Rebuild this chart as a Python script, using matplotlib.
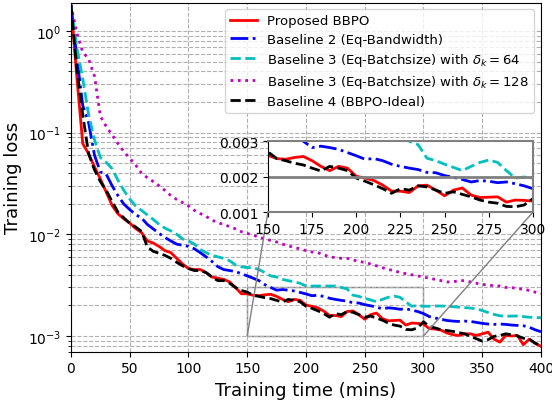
import numpy as np
import matplotlib
matplotlib.use("Agg")
import matplotlib.pyplot as plt
from mpl_toolkits.axes_grid1.inset_locator import mark_inset

# training time grid (mins) and loss values
time_mins = list(range(0, 401, 5))

loss_bbpo = [
    1.8, 0.35, 0.078, 0.062, 0.046, 0.035, 0.026, 0.0192, 0.0159, 0.0142,
    0.0129, 0.0114, 0.0104, 0.0086, 0.0082, 0.0076, 0.0069, 0.0066, 0.0058, 0.0051,
    0.0046, 0.0045, 0.0045, 0.0042, 0.0038, 0.0037, 0.0036, 0.0034, 0.0030, 0.0026,
    0.0026, 0.00251, 0.00249, 0.00254, 0.00257, 0.00245, 0.00229, 0.00217, 0.00229, 0.00224,
    0.00201, 0.00196, 0.00189, 0.00176, 0.00159, 0.00159, 0.00155, 0.00174, 0.00176, 0.00162,
    0.00146, 0.00162, 0.00168, 0.00148, 0.00141, 0.00142, 0.00143, 0.00128, 0.00134, 0.00133,
    0.00131, 0.00118, 0.00117, 0.00114, 0.00107, 0.00103, 0.00101, 0.00105, 0.00105, 0.00101,
    0.00105, 0.00109, 0.00093, 0.00087, 0.00101, 0.00100, 0.00101, 0.00082, 0.00093, 0.00085,
    0.00079,
]

loss_eq_bandwidth = [
    1.8, 0.55, 0.185, 0.125, 0.060, 0.041, 0.039, 0.030, 0.024, 0.0198,
    0.0175, 0.0156, 0.0145, 0.0125, 0.0113, 0.0102, 0.0093, 0.0086, 0.0080, 0.0078,
    0.0076, 0.0072, 0.0066, 0.0060, 0.0054, 0.0048, 0.0045, 0.0044, 0.0043, 0.0041,
    0.0039, 0.0037, 0.0035, 0.0032, 0.0030, 0.00282, 0.00286, 0.00282, 0.00277, 0.00268,
    0.00259, 0.00249, 0.00251, 0.00245, 0.00235, 0.00229, 0.00224, 0.00220, 0.00212, 0.00211,
    0.00203, 0.00198, 0.00192, 0.00185, 0.00189, 0.00187, 0.00183, 0.00185, 0.00180, 0.00174,
    0.00166, 0.00155, 0.00150, 0.00146, 0.00142, 0.00140, 0.00139, 0.00140, 0.00139, 0.00136,
    0.00133, 0.00131, 0.00130, 0.00131, 0.00130, 0.00128, 0.00127, 0.00126, 0.00122, 0.00115,
    0.00110,
]

loss_eq_batch_64 = [
    1.8, 0.68, 0.34, 0.15, 0.085, 0.057, 0.051, 0.044, 0.034, 0.027,
    0.0222, 0.019, 0.0172, 0.0155, 0.0140, 0.0125, 0.0115, 0.0108, 0.0100, 0.0090,
    0.0086, 0.0080, 0.0071, 0.0066, 0.0062, 0.0060, 0.0058, 0.0055, 0.0050, 0.0048,
    0.0047, 0.0047, 0.0045, 0.0042, 0.0039, 0.0038, 0.0036, 0.0035, 0.0034, 0.0033,
    0.0031, 0.0031, 0.0031, 0.0031, 0.0031, 0.0031, 0.0030, 0.0029, 0.00252, 0.00245,
    0.00235, 0.00226, 0.00217, 0.00229, 0.00240, 0.00247, 0.00240, 0.00217, 0.00196, 0.00199,
    0.00196, 0.00196, 0.00197, 0.00197, 0.00196, 0.00194, 0.00192, 0.00190, 0.00188, 0.00185,
    0.00178, 0.00170, 0.00163, 0.00158, 0.00156, 0.00157, 0.00157, 0.00155, 0.00153, 0.00152,
    0.00151,
]

loss_eq_batch_128 = [
    1.8, 0.95, 0.62, 0.53, 0.36, 0.145, 0.115, 0.095, 0.078, 0.065,
    0.056, 0.048, 0.040, 0.036, 0.033, 0.030, 0.027, 0.024, 0.022, 0.0205,
    0.019, 0.0172, 0.0160, 0.0150, 0.0138, 0.0130, 0.0125, 0.0119, 0.0113, 0.0106,
    0.0102, 0.0098, 0.0094, 0.0090, 0.0087, 0.0084, 0.0080, 0.0077, 0.0074, 0.0072,
    0.0069, 0.0067, 0.0066, 0.0063, 0.0060, 0.0059, 0.0058, 0.0058, 0.0056, 0.0054,
    0.0053, 0.0051, 0.0049, 0.0047, 0.0045, 0.0044, 0.0042, 0.0041, 0.0040, 0.0039,
    0.0038, 0.0037, 0.0036, 0.0035, 0.0034, 0.0034, 0.0035, 0.0035, 0.0034, 0.0033,
    0.0032, 0.0032, 0.0031, 0.0031, 0.0030, 0.0030, 0.0029, 0.0029, 0.0028, 0.0027,
    0.0026,
]

loss_ideal = [
    1.8, 0.42, 0.15, 0.062, 0.043, 0.033, 0.027, 0.021, 0.0165, 0.0145,
    0.0128, 0.0118, 0.0107, 0.0075, 0.0068, 0.0065, 0.0062, 0.0058, 0.0053, 0.0049,
    0.0046, 0.0044, 0.0044, 0.0042, 0.0038, 0.0035, 0.0035, 0.0033, 0.0030, 0.0028,
    0.0027, 0.00251, 0.00245, 0.00238, 0.00233, 0.00224, 0.00216, 0.00229, 0.00224, 0.00217,
    0.00196, 0.00187, 0.00177, 0.00166, 0.00153, 0.00166, 0.00162, 0.00174, 0.00171, 0.00162,
    0.00153, 0.00157, 0.00150, 0.00143, 0.00134, 0.00128, 0.00125, 0.00116, 0.00115, 0.00120,
    0.00138, 0.00124, 0.00120, 0.00115, 0.00113, 0.00111, 0.00108, 0.00105, 0.00099, 0.00094,
    0.00089, 0.00092, 0.00099, 0.00101, 0.00105, 0.00103, 0.00100, 0.00095, 0.00093, 0.00085,
    0.00080,
]

labels = [
    "Proposed BBPO",
    "Baseline 2 (Eq-Bandwidth)",
    r"Baseline 3 (Eq-Batchsize) with $\delta_k=64$",
    r"Baseline 3 (Eq-Batchsize) with $\delta_k=128$",
    "Baseline 4 (BBPO-Ideal)",
]
series = [loss_bbpo, loss_eq_bandwidth, loss_eq_batch_64, loss_eq_batch_128, loss_ideal]
styles = ["r-", "b-.", "c--", "m:", "k--"]

fig = plt.figure(figsize=(5.52, 4.02), dpi=100)
ax = fig.add_axes([0.1286, 0.1226, 0.8514, 0.8684])

for y, st, lab in zip(series, styles, labels):
    ax.plot(time_mins, y, st, lw=2, label=lab)

ax.set_yscale("log")
ax.set_xlim(0, 400)
ax.set_ylim(7e-4, 1.9)
ax.set_xticks(range(0, 401, 50))
ax.grid(True, which="both", linestyle="--", color="#b0b0b0", lw=0.8)
ax.tick_params(labelsize=10)
ax.set_xlabel("Training time (mins)", fontsize=13)
ax.set_ylabel("Training loss", fontsize=13)
ax.legend(loc="upper right", fontsize=9.5, labelspacing=0.38)

# zoomed inset
axins = ax.inset_axes([0.419, 0.400, 0.564, 0.203])
for y, st in zip(series, styles):
    axins.plot(time_mins, y, st, lw=2)
axins.set_xlim(150, 300)
axins.set_ylim(0.001, 0.003)
axins.set_xticks(range(150, 301, 25))
axins.set_yticks([0.001, 0.002, 0.003])
axins.axhline(0.002, color="0.5", lw=2)
axins.tick_params(labelsize=10)
for s in ["top", "right", "bottom"]:
    axins.spines[s].set_color("0.5")
    axins.spines[s].set_linewidth(1.5)
mark_inset(ax, axins, loc1=3, loc2=4, fc="none", ec="0.5")

fig.savefig("out.png", dpi=100)
